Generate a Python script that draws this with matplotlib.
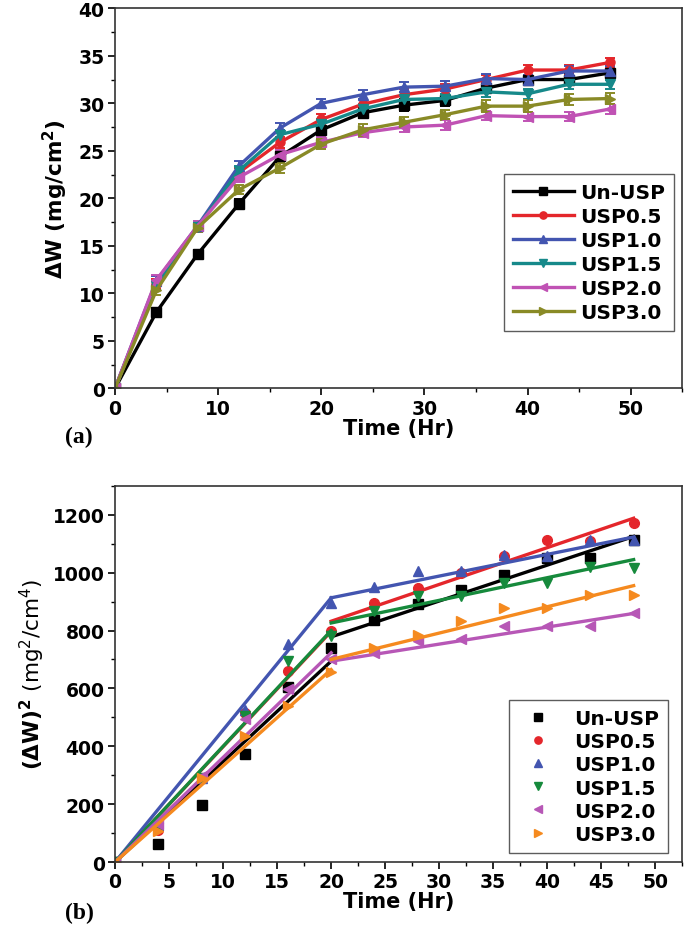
import matplotlib
matplotlib.use("Agg")
import matplotlib.pyplot as plt
from matplotlib.ticker import MultipleLocator

plt.rcParams['font.family'] = ['DejaVu Sans']
plt.rcParams['font.weight'] = 'bold'
plt.rcParams['mathtext.fontset'] = 'custom'
plt.rcParams['mathtext.rm'] = 'DejaVu Sans:weight=normal'
plt.rcParams['mathtext.bf'] = 'DejaVu Sans:bold'
plt.rcParams['mathtext.it'] = 'DejaVu Sans:bold'

# ---------------- data ----------------
labels = ['Un-USP', 'USP0.5', 'USP1.0', 'USP1.5', 'USP2.0', 'USP3.0']
time_hr = [0, 4, 8, 12, 16, 20, 24, 28, 32, 36, 40, 44, 48]

# (a) weight gain, mg/cm^2
dw_unusp = [0, 8.0, 14.1, 19.4, 24.4, 27.2, 29.0, 29.8, 30.3, 31.6, 32.5, 32.5, 33.2]
dw_usp05 = [0, 11.0, 17.0, 22.7, 25.9, 28.3, 29.9, 30.9, 31.5, 32.5, 33.5, 33.5, 34.3]
dw_usp10 = [0, 11.3, 17.1, 23.4, 27.4, 30.0, 30.9, 31.7, 31.8, 32.6, 32.5, 33.4, 33.4]
dw_usp15 = [0, 10.8, 17.0, 22.9, 26.7, 27.8, 29.4, 30.4, 30.5, 31.2, 31.0, 32.0, 32.0]
dw_usp20 = [0, 11.4, 17.1, 22.2, 24.6, 25.9, 26.9, 27.5, 27.7, 28.7, 28.6, 28.6, 29.4]
dw_usp30 = [0, 10.3, 16.9, 20.9, 23.2, 25.7, 27.2, 28.0, 28.8, 29.7, 29.7, 30.4, 30.5]

err_unusp = [0, 0.5, 0.5, 0.5, 0.5, 0.5, 0.6, 0.6, 0.6, 0.5, 0.5, 0.6, 0.6]
err_usp05 = [0, 0.5, 0.5, 0.5, 0.6, 0.6, 0.6, 0.6, 0.5, 0.5, 0.5, 0.5, 0.5]
err_usp10 = [0, 0.5, 0.5, 0.5, 0.5, 0.5, 0.5, 0.5, 0.5, 0.5, 0.5, 0.5, 0.5]
err_usp15 = [0, 0.5, 0.5, 0.5, 0.5, 0.5, 0.5, 0.5, 0.5, 0.5, 0.5, 0.5, 0.5]
err_usp20 = [0, 0.5, 0.5, 0.5, 0.5, 0.5, 0.5, 0.5, 0.5, 0.5, 0.5, 0.5, 0.5]
err_usp30 = [0, 0.5, 0.5, 0.5, 0.5, 0.5, 0.6, 0.6, 0.5, 0.6, 0.6, 0.6, 0.6]

# (b) squared weight gain, mg^2/cm^4
sq_unusp = [0, 62, 198, 372, 604, 738, 838, 890, 941, 993, 1051, 1051, 1112]
sq_usp05 = [0, 110, 289, 515, 660, 797, 895, 947, 999, 1056, 1114, 1108, 1173]
sq_usp10 = [0, 128, 289, 527, 752, 895, 951, 1004, 1004, 1062, 1056, 1114, 1114]
sq_usp15 = [0, 117, 289, 505, 694, 780, 867, 918, 918, 964, 964, 1020, 1016]
sq_usp20 = [0, 130, 298, 493, 599, 700, 721, 763, 769, 815, 815, 815, 861]
sq_usp30 = [0, 106, 289, 435, 539, 656, 740, 786, 832, 878, 878, 924, 924]

# fitted parabolic-rate lines: stage 1 (0-20 h) and stage 2 (20-48 h)
fit1_t = [0, 20]
fit2_t = [20, 48]
fit1_unusp = [0, 694]
fit2_unusp = [778, 1125]
fit1_usp05 = [0, 797]
fit2_usp05 = [832, 1188]
fit1_usp10 = [0, 913]
fit2_usp10 = [913, 1123]
fit1_usp15 = [0, 800]
fit2_usp15 = [826, 1045]
fit1_usp20 = [0, 723]
fit2_usp20 = [694, 859]
fit1_usp30 = [0, 665]
fit2_usp30 = [700, 955]

# ---------------- styles ----------------
markers = ['s', 'o', '^', 'v', '<', '>']
colors_a = ['#000000', '#e4262b', '#4355b0', '#16898a', '#c052b4', '#898a26']
colors_b = ['#000000', '#e4262b', '#4355b0', '#168a3c', '#b757b6', '#f58a1f']

dw_all = [dw_unusp, dw_usp05, dw_usp10, dw_usp15, dw_usp20, dw_usp30]
err_all = [err_unusp, err_usp05, err_usp10, err_usp15, err_usp20, err_usp30]
sq_all = [sq_unusp, sq_usp05, sq_usp10, sq_usp15, sq_usp20, sq_usp30]
fit1_all = [fit1_unusp, fit1_usp05, fit1_usp10, fit1_usp15, fit1_usp20, fit1_usp30]
fit2_all = [fit2_unusp, fit2_usp05, fit2_usp10, fit2_usp15, fit2_usp20, fit2_usp30]

fig = plt.figure(figsize=(6.85, 9.29), dpi=100)
ax1 = fig.add_axes([0.168, 0.581, 0.828, 0.409])
ax2 = fig.add_axes([0.168, 0.071, 0.828, 0.405])

# ---------------- (a) ----------------
handles_a = []
for y, e, m, c, lab in zip(dw_all, err_all, markers, colors_a, labels):
    cont = ax1.errorbar(time_hr, y, yerr=e, color=c, marker=m, markersize=6.5,
                        linewidth=2.4, elinewidth=1.4, capsize=3.5, capthick=1.4,
                        label=lab)
    handles_a.append(cont[0])

ax1.set_xlim(0, 55)
ax1.set_ylim(0, 40)
ax1.xaxis.set_major_locator(MultipleLocator(10))
ax1.xaxis.set_minor_locator(MultipleLocator(5))
ax1.yaxis.set_major_locator(MultipleLocator(5))
ax1.yaxis.set_minor_locator(MultipleLocator(2.5))
ax1.set_xlabel('Time (Hr)', fontsize=15, fontweight='bold', labelpad=0)
ax1.set_ylabel(r'$\mathbf{\Delta W\ (mg/cm^{2})}$', fontsize=15.5, labelpad=6)
leg1 = ax1.legend(handles=handles_a, labels=labels, loc='lower right',
                  bbox_to_anchor=(0.985, 0.15), borderaxespad=0.0, fontsize=14.5,
                  frameon=True, fancybox=False, edgecolor='#333333',
                  handlelength=3.0, handletextpad=0.3, labelspacing=0.25,
                  borderpad=0.45, markerscale=0.8)
leg1.get_frame().set_linewidth(1.0)

# ---------------- (b) ----------------
for y, f1, f2, m, c, lab in zip(sq_all, fit1_all, fit2_all, markers, colors_b, labels):
    ax2.plot(time_hr, y, linestyle='none', marker=m, markersize=7, color=c, label=lab)
    ax2.plot(fit1_t, f1, color=c, linewidth=2.4)
    ax2.plot(fit2_t, f2, color=c, linewidth=2.4)

ax2.set_xlim(0, 52.5)
ax2.set_ylim(0, 1300)
ax2.xaxis.set_major_locator(MultipleLocator(5))
ax2.xaxis.set_minor_locator(MultipleLocator(2.5))
ax2.yaxis.set_major_locator(MultipleLocator(200))
ax2.yaxis.set_minor_locator(MultipleLocator(100))
ax2.set_xlabel('Time (Hr)', fontsize=15, fontweight='bold', labelpad=0)
ax2.set_ylabel(r'$\mathbf{(\Delta W)^{2}}\ \mathrm{(mg^{2}/cm^{4})}$', fontsize=15.5, labelpad=4)
leg2 = ax2.legend(loc='lower right', bbox_to_anchor=(0.975, 0.025), borderaxespad=0.0,
                  fontsize=14.5, frameon=True, fancybox=False, edgecolor='#333333',
                  handlelength=2.0, handletextpad=0.8, labelspacing=0.2,
                  borderpad=0.45, markerscale=0.75)
leg2.get_frame().set_linewidth(1.0)

for ax in (ax1, ax2):
    ax.tick_params(axis='both', which='major', direction='out', length=5, width=1.2,
                   labelsize=13.5, top=False, right=False, pad=2.5)
    ax.tick_params(axis='both', which='minor', direction='out', length=3, width=1.0,
                   top=False, right=False)
    for lbl in ax.get_xticklabels() + ax.get_yticklabels():
        lbl.set_fontweight('bold')
    for sp in ax.spines.values():
        sp.set_linewidth(1.2)
        sp.set_color('#333333')

fig.text(0.095, 0.529, '(a)', fontsize=17, fontweight='bold', family='Liberation Serif',
         ha='left', va='center')
fig.text(0.095, 0.017, '(b)', fontsize=17, fontweight='bold', family='Liberation Serif',
         ha='left', va='center')

fig.savefig('out.png', dpi=100)
